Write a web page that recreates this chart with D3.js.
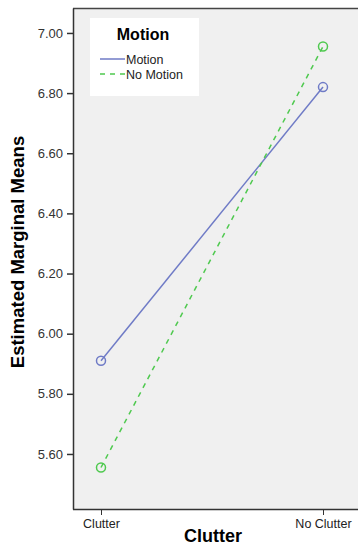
<!DOCTYPE html>
<html><head><meta charset="utf-8">
<script src="https://cdn.jsdelivr.net/npm/d3@7"></script>
<style>body{margin:0;background:#fff}svg{display:block}</style>
</head><body>
<script>
const categories = ["Clutter", "No Clutter"];
const seriesNames = ["Motion", "No Motion"];
const motion = [5.91, 6.82];
const noMotion = [5.555, 6.955];
const yTicks = [5.60, 5.80, 6.00, 6.20, 6.40, 6.60, 6.80, 7.00];

const W = 358, H = 545;
const L = 73, T = 8, R = 358, B = 509;
const FF = "Arial, 'Liberation Sans', sans-serif";
const svg = d3.select("body").append("svg").attr("width", W).attr("height", H);

const x = d3.scalePoint().domain(categories).range([101, 323]);
const y = d3.scaleLinear().domain([5.417, 7.083]).range([B, T]);

svg.append("rect").attr("x", L).attr("y", T).attr("width", R - L).attr("height", B - T).attr("fill", "#f0f0f0");
svg.append("line").attr("x1", L).attr("x2", R).attr("y1", T + 0.5).attr("y2", T + 0.5).attr("stroke", "#444").attr("stroke-width", 1.5);

const yAxis = svg.append("g").attr("transform", `translate(${L},0)`)
  .call(d3.axisLeft(y).tickValues(yTicks).tickFormat(d3.format(".2f")).tickSize(6).tickSizeOuter(0));
yAxis.select(".domain").attr("stroke", "#333").attr("stroke-width", 1.5);
yAxis.selectAll(".tick line").attr("stroke", "#333").attr("stroke-width", 1.5);
yAxis.selectAll("text").attr("font-family", FF).attr("font-size", 13).attr("fill", "#333").attr("x", -10);

const xAxis = svg.append("g").attr("transform", `translate(0,${B})`)
  .call(d3.axisBottom(x).tickSize(6).tickSizeOuter(0));
xAxis.select(".domain").attr("d", `M${L},0.5H${R}`).attr("stroke", "#333").attr("stroke-width", 1.5);
xAxis.selectAll(".tick line").attr("stroke", "#333").attr("stroke-width", 1);
xAxis.selectAll("text").attr("font-family", FF).attr("font-size", 12.5).attr("fill", "#222").attr("y", 10).attr("dy", "0.75em");

const colors = ["#6f7bc6", "#4fc94f"];
const dashes = [null, "5,5"];
[motion, noMotion].forEach((vals, i) => {
  const pts = categories.map((c, j) => [x(c), y(vals[j])]);
  svg.append("path").attr("d", d3.line()(pts)).attr("fill", "none")
    .attr("stroke", colors[i]).attr("stroke-width", 1.5).attr("stroke-dasharray", dashes[i]);
  svg.selectAll(null).data(pts).enter().append("circle")
    .attr("cx", d => d[0]).attr("cy", d => d[1]).attr("r", 4.5)
    .attr("fill", "none").attr("stroke", colors[i]).attr("stroke-width", 1.5);
});

// legend
const lg = svg.append("g");
lg.append("rect").attr("x", 90).attr("y", 18).attr("width", 109).attr("height", 78).attr("fill", "#fff");
lg.append("text").attr("x", 143).attr("y", 40).attr("text-anchor", "middle")
  .attr("font-family", FF).attr("font-weight", "bold").attr("font-size", 16).text("Motion");
seriesNames.forEach((n, i) => {
  const yy = 59 + i * 15;
  lg.append("line").attr("x1", 100).attr("x2", 125).attr("y1", yy).attr("y2", yy)
    .attr("stroke", colors[i]).attr("stroke-width", 1.5).attr("stroke-dasharray", dashes[i]);
  lg.append("text").attr("x", 126).attr("y", yy + 4.5).attr("font-family", FF)
    .attr("font-size", 12.5).attr("fill", "#222").text(n);
});

svg.append("text").attr("transform", `translate(24,252) rotate(-90)`).attr("text-anchor", "middle")
  .attr("font-family", FF).attr("font-weight", "bold").attr("font-size", 18.5).text("Estimated Marginal Means");
svg.append("text").attr("x", 213).attr("y", 542).attr("text-anchor", "middle")
  .attr("font-family", FF).attr("font-weight", "bold").attr("font-size", 18).text("Clutter");
</script>
</body></html>
